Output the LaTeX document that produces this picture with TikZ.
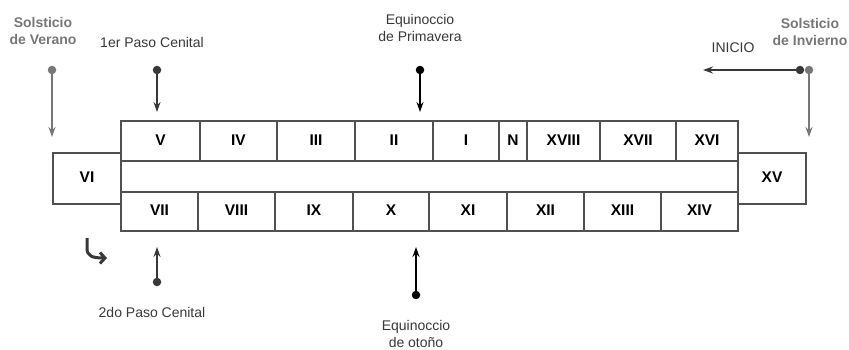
\documentclass[tikz,border=0pt]{standalone}
\usepackage{fontspec}
\setmainfont{Liberation Sans}
\usetikzlibrary{arrows.meta}
\definecolor{boxline}{HTML}{505050}
\definecolor{solgray}{HTML}{777777}
\definecolor{darkg}{HTML}{383838}
\tikzset{
  cell/.style={draw=boxline, line width=1.6pt, inner sep=0pt, font=\fontsize{15.5}{15}\selectfont\bfseries, text=black, text depth=2pt},
  toprow/.style={cell, minimum height=40pt},
  botrow/.style={cell, minimum height=39pt},
  endbox/.style={cell, minimum height=51pt, minimum width=68pt},
  dot/.style={circle, inner sep=0pt, minimum size=8.5pt},
  arr/.style={line width=2.5pt, -{Stealth[length=10pt,width=7pt]}},
  lbl/.style={font=\fontsize{14}{17}\selectfont, text=darkg, align=center},
  sol/.style={font=\fontsize{14}{17}\selectfont\bfseries, text=solgray, align=center},
}
\begin{document}
\begin{tikzpicture}[x=1pt,y=-1pt]
\useasboundingbox (0,0) rectangle (849,350);
% top row
\node[toprow, minimum width=79pt] (c5) at (160.5,141) {V};
\node[toprow, minimum width=77pt] (c4) at (238.5,141) {IV};
\node[toprow, minimum width=78pt] (c3) at (316,141) {III};
\node[toprow, minimum width=78pt] (c2) at (394,141) {II};
\node[toprow, minimum width=66pt] (c1) at (466,141) {I};
\node[toprow, minimum width=28pt] (cN) at (513,141) {N};
\node[toprow, minimum width=73pt] (c18) at (563.5,141) {XVIII};
\node[toprow, minimum width=76pt] (c17) at (638,141) {XVII};
\node[toprow, minimum width=62pt] (c16) at (707,141) {XVI};
% bottom row
\node[botrow, minimum width=77pt] (c7) at (159.5,211.5) {VII};
\node[botrow, minimum width=77pt] (c8) at (236.5,211.5) {VIII};
\node[botrow, minimum width=78pt] (c9) at (314,211.5) {IX};
\node[botrow, minimum width=76pt] (c10) at (391,211.5) {X};
\node[botrow, minimum width=78pt] (c11) at (468,211.5) {XI};
\node[botrow, minimum width=77pt] (c12) at (545.5,211.5) {XII};
\node[botrow, minimum width=77pt] (c13) at (622.5,211.5) {XIII};
\node[botrow, minimum width=77pt] (c14) at (699.5,211.5) {XIV};
% end boxes
\node[endbox] (c6) at (87,178.5) {VI};
\node[endbox] (c15) at (772,178.5) {XV};
% labels
\node[sol] (sv) at (43,31) {Solsticio\\de Verano};
\node[lbl] (p1) at (152,42) {1er Paso Cenital};
\node[lbl] (ep) at (420,27.5) {Equinoccio\\de Primavera};
\node[lbl] (ini) at (733,48) {INICIO};
\node[sol] (si) at (810,31.5) {Solsticio\\de Invierno};
\node[lbl] (p2) at (152,312) {2do Paso Cenital};
\node[lbl] (eo) at (416,333.5) {Equinoccio\\de otoño};
% dots
\node[dot, fill=solgray] (svd) at (52,70) {};
\node[dot, fill=darkg] (p1d) at (157,70) {};
\node[dot, fill=black] (epd) at (420,70) {};
\node[dot, fill=darkg] (inid) at (800,70) {};
\node[dot, fill=solgray] (sid) at (809,70) {};
\node[dot, fill=darkg] (p2d) at (157,282) {};
\node[dot, fill=black] (eod) at (416,295) {};
% arrow ends
\coordinate (sve) at (52,137);
\coordinate (p1e) at (157,112);
\coordinate (epe) at (420,112);
\coordinate (inie) at (703,70);
\coordinate (sie) at (809,137);
\coordinate (p2e) at (157,247);
\coordinate (eoe) at (416,247);
\coordinate (hks) at (87,238);
\coordinate (hke) at (107,258);
% arrows
\draw[arr, draw=solgray, fill=solgray] (svd.center) -- (sve);
\draw[arr, draw=darkg, fill=darkg] (p1d.center) -- (p1e);
\draw[arr, draw=black, line width=2.8pt] (epd.center) -- (epe);
\draw[arr, draw=darkg, line width=2.8pt] (inid.center) -- (inie);
\draw[arr, draw=solgray] (sid.center) -- (sie);
\draw[arr, draw=darkg] (p2d.center) -- (p2e);
\draw[arr, draw=black, line width=2.8pt] (eod.center) -- (eoe);
\draw[draw=darkg, line width=3pt, -{Straight Barb[length=5pt,width=11pt]}] (hks) -- (87,248) .. controls (87,256) and (92,258) .. (hke);
\end{tikzpicture}
\end{document}
